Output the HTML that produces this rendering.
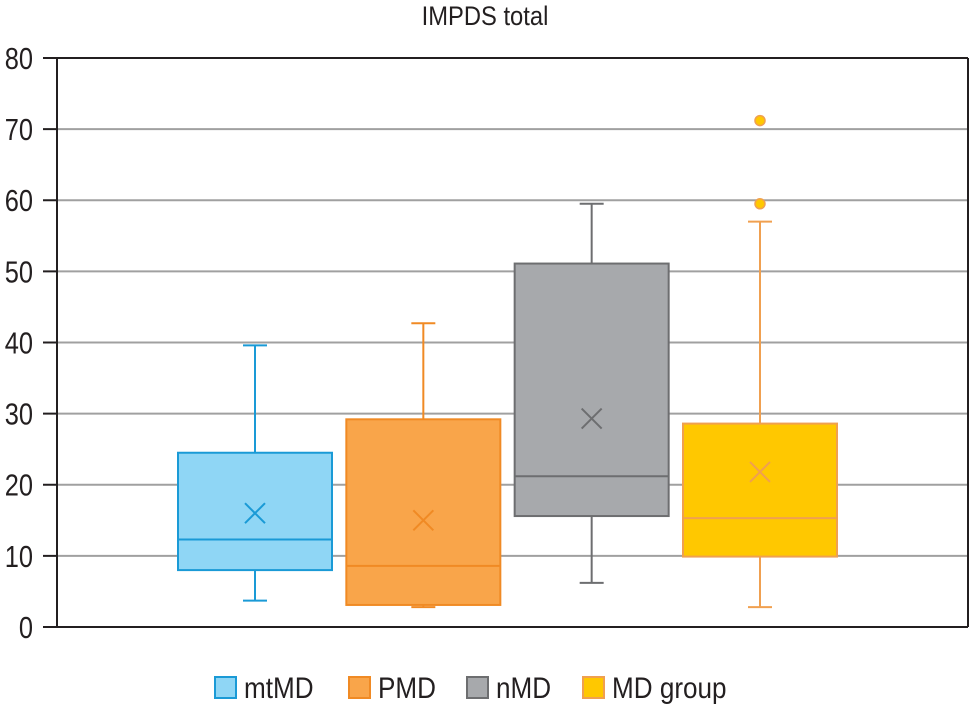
<!DOCTYPE html>
<html><head><meta charset="utf-8"><style>
html,body{margin:0;padding:0;background:#fff;}
svg{display:block;font-family:"Liberation Sans",sans-serif;}
</style></head><body>
<svg id="chart" width="970" height="705" viewBox="0 0 970 705">
<text x="485" y="25" text-anchor="middle" font-size="27" fill="#231f20" transform="translate(485 0) scale(0.88 1) translate(-485 0)">IMPDS total</text>
<g id="grid"></g>
<g id="yaxis"></g>
<g id="boxes"></g>
<g id="legend"></g>
</svg>
<script>
const categories = ["mtMD","PMD","nMD","MD group"];
const mins = [3.7, 2.8, 6.2, 2.8];
const q1s = [8, 3.1, 15.6, 9.9];
const medians = [12.3, 8.6, 21.2, 15.3];
const q3s = [24.5, 29.2, 51.1, 28.6];
const maxs = [39.6, 42.7, 59.5, 57];
const means = [16, 15, 29.3, 21.8];
const outliers = [[], [], [], [59.5, 71.2]];
const yTicks = [0,10,20,30,40,50,60,70,80];

const fills = ["#8fd6f5","#f9a54a","#a7a9ac","#ffc800"];
const strokes = ["#1a9ad6","#f08a24","#6d6e70","#f0a050"];
const NS = "http://www.w3.org/2000/svg";
const X0 = 57, X1 = 968, Y0 = 627, Y1 = 58;
const y = v => Y0 - (v - 0) / 80 * (Y0 - Y1);
const centers = [255, 422, 592, 760];
const xc = i => centers[0] + i * (centers[3] - centers[0]) / 3;
const BW = 154;
function mk(tag, attrs, parent){const e=document.createElementNS(NS,tag);for(const k in attrs)e.setAttribute(k,attrs[k]);parent.appendChild(e);return e;}
const grid=document.getElementById('grid'), yaxis=document.getElementById('yaxis'), boxes=document.getElementById('boxes'), legend=document.getElementById('legend');

yTicks.forEach(t=>{
  const edge = (t===0||t===80);
  const l = mk('line',{x1:X0,x2:X1,y1:y(t),y2:y(t),stroke:edge?'#231f20':'#a0a0a0','stroke-width':2},grid);
  
  
  const tk = mk('line',{x1:43,x2:X0,y1:y(t),y2:y(t),stroke:'#231f20','stroke-width':2},yaxis);
  
  
  const tx = mk('text',{x:33,y:y(t)+11,'text-anchor':'end','font-size':31,fill:'#231f20',transform:`translate(33 0) scale(0.82 1) translate(-33 0)`},yaxis);
  tx.textContent = t;
  
  
});
const ax = mk('line',{x1:X0,x2:X0,y1:Y1,y2:Y0,stroke:'#231f20','stroke-width':2},yaxis);


const rx = mk('line',{x1:X1,x2:X1,y1:Y1,y2:Y0,stroke:'#231f20','stroke-width':2},yaxis);



categories.forEach((c,i)=>{
  const g = mk('g',{},boxes);
  
  
  const cx = xc(i), s = strokes[i];
  mk('line',{x1:cx,x2:cx,y1:y(q3s[i]),y2:y(maxs[i]),stroke:s,'stroke-width':2},g);
  mk('line',{x1:cx,x2:cx,y1:y(q1s[i]),y2:y(mins[i]),stroke:s,'stroke-width':2},g);
  mk('line',{x1:cx-12,x2:cx+12,y1:y(maxs[i]),y2:y(maxs[i]),stroke:s,'stroke-width':2},g);
  mk('line',{x1:cx-12,x2:cx+12,y1:y(mins[i]),y2:y(mins[i]),stroke:s,'stroke-width':2},g);
  mk('rect',{x:cx-BW/2,y:y(q3s[i]),width:BW,height:y(q1s[i])-y(q3s[i]),fill:fills[i],stroke:s,'stroke-width':2},g);
  mk('line',{x1:cx-BW/2,x2:cx+BW/2,y1:y(medians[i]),y2:y(medians[i]),stroke:s,'stroke-width':2},g);
  const my=y(means[i]);
  mk('path',{d:`M${cx-10} ${my-10}L${cx+10} ${my+10}M${cx+10} ${my-10}L${cx-10} ${my+10}`,stroke:s,'stroke-width':2,fill:'none'},g);
  outliers[i].forEach(o=>{
    const ci = mk('circle',{cx:cx,cy:y(o),r:5,fill:fills[i],stroke:s,'stroke-width':1.5},g);
    
    
  });
});

const lx = [215, 349, 467, 583];
categories.forEach((c,i)=>{
  const g = mk('g',{},legend);
  
  
  mk('rect',{x:lx[i],y:677,width:21,height:21,fill:fills[i],stroke:strokes[i],'stroke-width':2},g);
  const tx0 = lx[i]+29;
  const t = mk('text',{x:tx0,y:698,'font-size':30,fill:'#231f20',transform:`translate(${tx0} 0) scale(0.87 1) translate(${-tx0} 0)`},g);
  t.textContent = c;
});
</script>
</body></html>
